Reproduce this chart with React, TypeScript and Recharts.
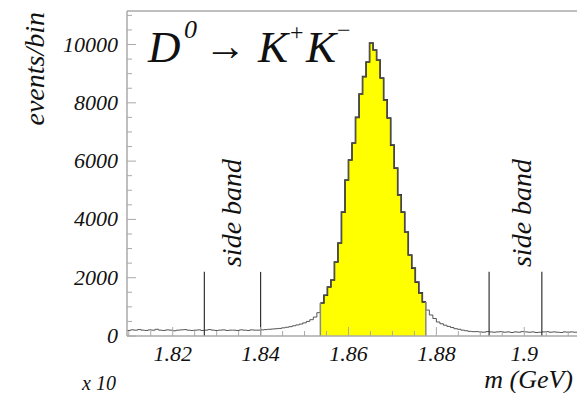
import React from 'react';
import { ComposedChart, Area, XAxis, YAxis, ReferenceLine } from 'recharts';

// histogram binning (GeV)
const BIN_START = 1.8096;
const BIN_WIDTH = 0.0008;

// events per bin
const counts = [
  190, 210, 200, 220, 200, 190, 210, 200, 230, 200, 190, 210, 200, 180, 200, 210, 220, 200, 190,
  200, 210, 190, 200, 220, 200, 190, 200, 210, 190, 200, 200, 190, 210, 200, 190, 210, 200,
  200, 210, 220, 230, 240, 250, 260, 280, 300, 320, 350, 380, 410, 450, 500, 560, 650, 800,
  1130, 1400, 1680, 1920, 2540, 3190, 4250, 5350, 6040, 6620, 7500, 8300, 8900, 9400, 10050,
  9810, 9470, 8850, 8100, 7480, 6550, 5760, 4840, 4250, 3570, 2780, 2330, 1850, 1480, 1170,
  890, 720, 600, 480, 420, 370, 330, 290, 250, 230, 200, 180, 160, 150,
  150, 140, 130, 150, 140, 130, 140, 150, 130, 140, 120, 140, 130, 150, 140, 130, 140, 120,
  130, 140, 150, 130, 140, 130, 120, 140, 130, 140, 130,
];

// signal window (yellow) and side band edges
const SIGNAL_LO = 1.8536;
const SIGNAL_HI = 1.8776;
const sideBandEdges = [1.8272, 1.84, 1.892, 1.904];
const SIDE_BAND_HEIGHT = 2200;

const Y_MAX = 11150;
const yMajor = [0, 2000, 4000, 6000, 8000, 10000];
const yMinor = [500, 1000, 1500, 2500, 3000, 3500, 4500, 5000, 5500, 6500, 7000, 7500, 8500, 9000, 9500, 10500, 11000];
const xMajor = [1.82, 1.84, 1.86, 1.88, 1.9];
const xMinor = [1.81, 1.815, 1.825, 1.83, 1.835, 1.845, 1.85, 1.855, 1.865, 1.87, 1.875, 1.885, 1.89, 1.895, 1.905, 1.91];

const FONT = '"Liberation Serif", "DejaVu Serif", serif';
const INK = '#111';
const FRAME = '#aaa';
const txt = { fontFamily: FONT, fontStyle: 'italic' as const };

const r4 = (v: number) => Math.round(v * 10000) / 10000;
const X_MAX = r4(BIN_START + counts.length * BIN_WIDTH);

const data = counts.map((c, i) => ({ m: r4(BIN_START + i * BIN_WIDTH), count: c }))
  .concat([{ m: X_MAX, count: counts[counts.length - 1] }])
  .map((row, i, all) => {
    let signal: number | null = null;
    if (row.m >= SIGNAL_LO - 1e-6 && row.m < SIGNAL_HI - 1e-6) signal = row.count;
    else if (Math.abs(row.m - SIGNAL_HI) < 1e-6) signal = all[i - 1].count;
    return { ...row, signal };
  });

const sigFirst = data.find(d => d.signal != null)!;
const sigLast = [...data].reverse().find(d => d.signal != null)!;

const YTick = ({ x, y, payload }: any) => {
  const major = yMajor.includes(payload.value);
  return (
    <g>
      <line x1={x} x2={x + (major ? 9 : 5)} y1={y} y2={y} stroke={FRAME} strokeWidth={1} />
      {major && (
        <text x={x - 9} y={y + 7} textAnchor="end" style={{ ...txt, fontSize: 22 }} fill={INK}>
          {payload.value}
        </text>
      )}
    </g>
  );
};

const XTick = ({ x, y, payload }: any) => {
  const major = xMajor.includes(payload.value);
  return (
    <g>
      <line x1={x} x2={x} y1={y} y2={y - (major ? 9 : 5)} stroke={FRAME} strokeWidth={1} />
      {major && (
        <text x={x} y={y + 25} textAnchor="middle" style={{ ...txt, fontSize: 22 }} fill={INK}>
          {payload.value}
        </text>
      )}
    </g>
  );
};

export default function App() {
  return (
    <div style={{ position: 'absolute', left: 0, top: 0, width: 577, height: 393, background: '#fff' }}>
      <ComposedChart width={577} height={393} data={data} margin={{ top: 11, right: 0, bottom: 0, left: 0 }}>
        <XAxis
          dataKey="m"
          type="number"
          domain={[BIN_START, X_MAX]}
          allowDataOverflow
          ticks={[...xMinor, ...xMajor].sort((a, b) => a - b)}
          interval={0}
          tick={<XTick />}
          tickLine={false}
          tickSize={0}
          tickMargin={0}
          height={57}
          axisLine={{ stroke: FRAME, strokeWidth: 1.5 }}
        />
        <YAxis
          type="number"
          domain={[0, Y_MAX]}
          allowDataOverflow
          ticks={[...yMinor, ...yMajor].sort((a, b) => a - b)}
          interval={0}
          tick={<YTick />}
          tickLine={false}
          tickSize={0}
          tickMargin={0}
          width={127}
          axisLine={{ stroke: FRAME, strokeWidth: 1.5 }}
        />
        <ReferenceLine y={Y_MAX} stroke={FRAME} strokeWidth={1.5} />
        <Area
          type="stepAfter"
          dataKey="signal"
          fill="#ffff00"
          fillOpacity={1}
          stroke="#222"
          strokeWidth={1.6}
          connectNulls={false}
          dot={false}
          activeDot={false}
          isAnimationActive={false}
        />
        <Area
          type="stepAfter"
          dataKey="count"
          fill="none"
          stroke="#555"
          strokeWidth={1}
          dot={false}
          activeDot={false}
          isAnimationActive={false}
        />
        <ReferenceLine segment={[{ x: sigFirst.m, y: 0 }, { x: sigFirst.m, y: sigFirst.signal! }]} stroke="#888" strokeWidth={1.5} />
        <ReferenceLine segment={[{ x: sigLast.m, y: 0 }, { x: sigLast.m, y: sigLast.signal! }]} stroke="#888" strokeWidth={1.5} />
        {sideBandEdges.map(e => (
          <ReferenceLine key={e} segment={[{ x: e, y: 0 }, { x: e, y: SIDE_BAND_HEIGHT }]} stroke="#333" strokeWidth={1.2} />
        ))}
      </ComposedChart>
      <svg width={577} height={393} style={{ position: 'absolute', left: 0, top: 0, pointerEvents: 'none' }}>
        <g fill={INK}>
          <text x={148} y={62} style={{ ...txt, fontSize: 45 }}>D</text>
          <text x={184} y={38} style={{ ...txt, fontSize: 26 }}>0</text>
          <text x={204} y={60} style={{ fontFamily: FONT, fontSize: 42 }}>→</text>
          <text x={258} y={62} style={{ ...txt, fontSize: 45 }}>K</text>
          <text x={290} y={40} style={{ fontFamily: FONT, fontSize: 24 }}>+</text>
          <text x={306} y={62} style={{ ...txt, fontSize: 45 }}>K</text>
          <text x={337} y={38} style={{ fontFamily: FONT, fontSize: 24 }}>−</text>
          <text transform="translate(44,12) rotate(-90)" textAnchor="end" style={{ ...txt, fontSize: 28 }}>events/bin</text>
          <text transform="translate(241,213) rotate(-90)" textAnchor="middle" style={{ ...txt, fontSize: 28 }}>side band</text>
          <text transform="translate(531,213) rotate(-90)" textAnchor="middle" style={{ ...txt, fontSize: 28 }}>side band</text>
          <text x={573} y={388} textAnchor="end" style={{ ...txt, fontSize: 26 }}>m (GeV)</text>
          <text x={116} y={390} textAnchor="end" style={{ ...txt, fontSize: 20 }}>x 10</text>
        </g>
      </svg>
    </div>
  );
}
